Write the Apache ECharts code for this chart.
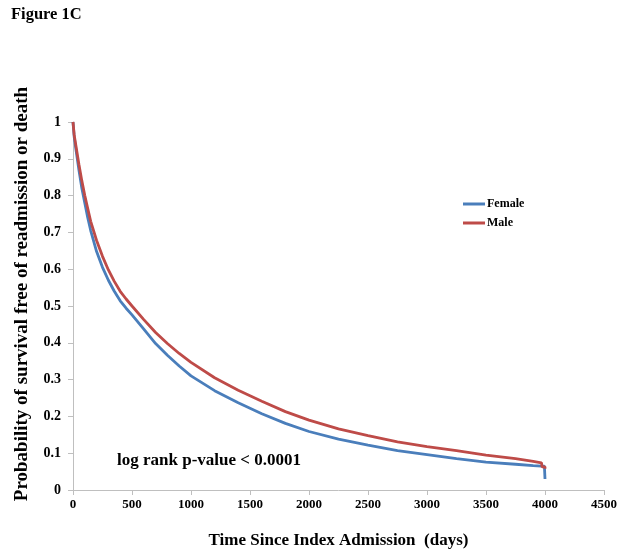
<!DOCTYPE html>
<html>
<head>
<meta charset="utf-8">
<script src="https://cdn.jsdelivr.net/npm/echarts@6/dist/echarts.min.js"></script>
<style>
  html, body { margin: 0; padding: 0; background: #fff; }
  #chart { width: 624px; height: 555px; }
</style>
</head>
<body>
<div id="chart"></div>
<script>
// days since index admission
const days = [0, 10, 25, 50, 75, 100, 125, 150, 200, 250, 300, 350, 400, 450, 500, 600, 700, 800, 900, 1000,
  1200, 1400, 1500, 1600, 1800, 2000, 2250, 2500, 2750, 3000, 3250, 3500, 3750, 3900, 3970]

// survival probability
const female = [1.0, 0.96, 0.925, 0.87, 0.82, 0.78, 0.74, 0.705, 0.648, 0.605, 0.57, 0.54, 0.514, 0.494, 0.476,
  0.437, 0.398, 0.366, 0.337, 0.31, 0.27, 0.237, 0.222, 0.207, 0.181, 0.159, 0.138, 0.122, 0.107, 0.096, 0.085,
  0.076, 0.07, 0.066, 0.065]
const male = [1.0, 0.965, 0.935, 0.885, 0.84, 0.80, 0.765, 0.73, 0.678, 0.635, 0.598, 0.567, 0.54, 0.519, 0.5,
  0.463, 0.428, 0.398, 0.371, 0.347, 0.305, 0.271, 0.256, 0.241, 0.213, 0.19, 0.166, 0.148, 0.131, 0.118, 0.107,
  0.095, 0.085, 0.078, 0.074]

// tail of each curve (last step down at ~4000 days)
const femaleTail = [[3995, 0.065], [4000, 0.065], [4000, 0.03]]
const maleTail = [[3975, 0.063], [4000, 0.063], [4000, 0.058]]

const xTicks = { min: 0, max: 4500, interval: 500 }
const yTicks = { min: 0, max: 1, interval: 0.1 }

const femaleData = days.map((d, i) => [d, female[i]]).concat(femaleTail)
const maleData = days.map((d, i) => [d, male[i]]).concat(maleTail)

const myChart = echarts.init(document.getElementById('chart'))

const serif = '"Liberation Serif", "Times New Roman", serif'
const axisColor = '#bfbfbf'

const option = {
  backgroundColor: '#fff',
  animation: false,
  title: {
    text: 'Figure 1C',
    left: 6,
    top: 1,
    textStyle: { fontFamily: serif, fontWeight: 'bold', fontSize: 16.5, color: '#000' },
  },
  grid: {
    left: 73,
    right: 20,
    top: 122,
    bottom: 65,
  },
  legend: {
    orient: 'vertical',
    left: 458,
    top: 193,
    itemGap: 7,
    itemWidth: 22,
    itemHeight: 3,
    icon: 'rect',
    textStyle: { fontFamily: serif, fontWeight: 'bold', fontSize: 12, color: '#000', padding: [0, 0, 0, -3] },
    data: ['Female', 'Male'],
  },
  xAxis: {
    type: 'value',
    min: xTicks.min,
    max: xTicks.max,
    interval: xTicks.interval,
    name: 'Time Since Index Admission  (days)',
    nameLocation: 'middle',
    nameGap: 42,
    nameTextStyle: { fontFamily: serif, fontWeight: 'bold', fontSize: 17, color: '#000' },
    axisLine: { lineStyle: { color: axisColor } },
    axisTick: { show: true, length: 5, lineStyle: { color: axisColor } },
    axisLabel: {
      fontFamily: serif, fontWeight: 'bold', fontSize: 13, color: '#000', margin: 8,
      formatter: (v) => String(v),
    },
    splitLine: { show: false },
  },
  yAxis: {
    type: 'value',
    min: yTicks.min,
    max: yTicks.max,
    interval: yTicks.interval,
    axisLine: { show: true, lineStyle: { color: axisColor } },
    axisTick: { show: true, length: 5, lineStyle: { color: axisColor } },
    axisLabel: {
      fontFamily: serif, fontWeight: 'bold', fontSize: 14, color: '#000', margin: 12,
      formatter: (v) => String(Math.round(v * 10) / 10),
    },
    splitLine: { show: false },
  },
  graphic: [
    {
      // y axis title, placed a little above the plot centre as in the figure
      type: 'text',
      x: 22,
      y: 294,
      rotation: Math.PI / 2,
      style: {
        text: 'Probability of survival free of readmission or death',
        font: 'bold 19px ' + serif,
        fill: '#000',
        align: 'center',
        verticalAlign: 'middle',
      },
    },
    {
      type: 'text',
      left: 117,
      top: 452,
      style: {
        text: 'log rank p-value < 0.0001',
        font: 'bold 17px ' + serif,
        fill: '#000',
      },
    },
  ],
  series: [
    {
      name: 'Female',
      type: 'line',
      showSymbol: false,
      color: '#4a7ebb',
      lineStyle: { width: 2.8 },
      data: femaleData,
      z: 2,
    },
    {
      name: 'Male',
      type: 'line',
      showSymbol: false,
      color: '#be4b48',
      lineStyle: { width: 2.8 },
      data: maleData,
      z: 3,
    },
  ],
}

myChart.setOption(option)
</script>
</body>
</html>
